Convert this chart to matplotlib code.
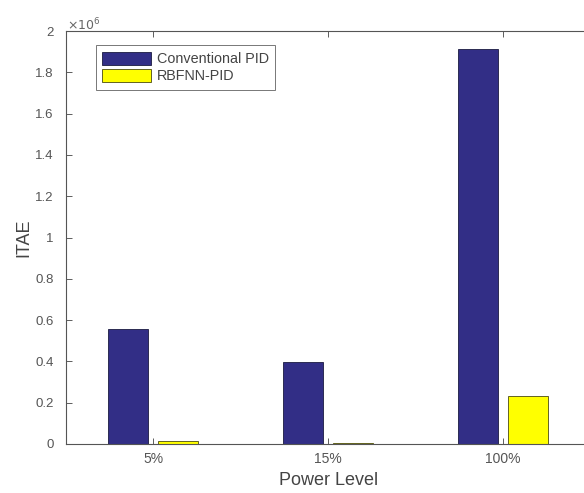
import matplotlib
matplotlib.use("Agg")
import matplotlib.pyplot as plt
import numpy as np

categories = ["5%", "15%", "100%"]
conventional_pid = [0.557e6, 0.397e6, 1.913e6]
rbfnn_pid = [0.013e6, 0.003e6, 0.232e6]
series_names = ["Conventional PID", "RBFNN-PID"]
yticks = [0, 0.2e6, 0.4e6, 0.6e6, 0.8e6, 1.0e6, 1.2e6, 1.4e6, 1.6e6, 1.8e6, 2.0e6]
ytick_labels = ["0", "0.2", "0.4", "0.6", "0.8", "1", "1.2", "1.4", "1.6", "1.8", "2"]

plt.rcParams['font.family'] = ['Liberation Sans', 'DejaVu Sans']

fig = plt.figure(figsize=(5.84, 4.93), dpi=100)
ax = fig.add_axes([0.113, 0.0994, 0.898, 0.8376])

x = np.arange(1, len(categories) + 1)
w = 0.2286
off = 0.143
ax.bar(x - off, conventional_pid, w, color='#322e86', edgecolor='#1a1a40', linewidth=0.6, label=series_names[0])
ax.bar(x + off, rbfnn_pid, w, color='#ffff00', edgecolor='#4a4a10', linewidth=0.6, label=series_names[1])

ax.set_xlim(0.5, 3.5)
ax.set_ylim(0, 2e6)
ax.set_xticks(x)
ax.set_xticklabels(categories)
ax.set_yticks(yticks)
ax.set_yticklabels(ytick_labels)
ax.tick_params(direction='in', length=4, width=0.6, top=True, right=True,
               colors='#444444', labelcolor='#555555')
ax.tick_params(axis='y', labelsize=9.5, pad=9)
ax.tick_params(axis='x', labelsize=10, pad=6)
for s in ax.spines.values():
    s.set_color('#555555')
    s.set_linewidth(0.8)

fig.text(0.114, 0.933, r"$\times10^{6}$", fontsize=9, color='#666666', ha='left', va='bottom')

ax.set_xlabel("Power Level", fontsize=13, color='#444444', labelpad=4)
ax.set_ylabel("ITAE", fontsize=13, color='#444444', labelpad=2)

leg = ax.legend(loc='upper left', bbox_to_anchor=(0.057, 0.966), fontsize=10.4,
                frameon=True, fancybox=False, edgecolor='#555555',
                handlelength=3.4, handleheight=1.0, handletextpad=0.35,
                borderpad=0.45, labelspacing=0.2, borderaxespad=0)
leg.get_frame().set_linewidth(0.7)
for t in leg.get_texts():
    t.set_color('#444444')

fig.savefig("out.png", dpi=100)
